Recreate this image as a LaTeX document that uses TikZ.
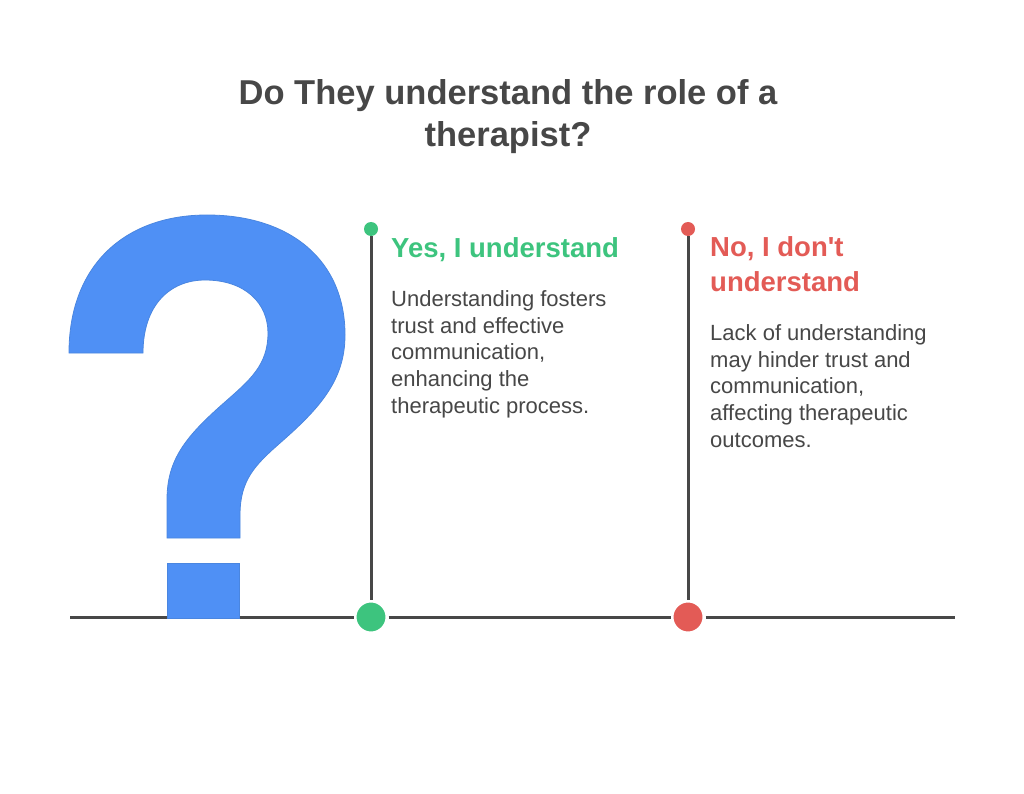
\documentclass[tikz,border=0pt]{standalone}
\usepackage{fontspec}
\setmainfont{Liberation Sans}
\definecolor{qblue}{HTML}{4F90F5}
\definecolor{qblueline}{HTML}{4A86E0}
\definecolor{yesgreen}{HTML}{3DC47E}
\definecolor{nored}{HTML}{E35B56}
\definecolor{inkgray}{HTML}{474747}
\tikzset{
  rail/.style={line width=3pt, color=inkgray},
  bigdot/.style={circle, draw=white, line width=3pt, minimum size=32pt, inner sep=0pt},
  topdot/.style={circle, minimum size=14pt, inner sep=0pt},
  headtext/.style={anchor=base west, inner sep=0pt, font=\fontsize{27.5}{34.5}\selectfont\bfseries, align=left},
  bodytext/.style={anchor=base west, inner sep=0pt, font=\fontsize{22}{26.6}\selectfont, color=inkgray, align=left},
}

\begin{document}
\begin{tikzpicture}[x=1pt, y=-1pt]
		%%%%% START %%%%%
		\useasboundingbox[fill=white] (0, 0) rectangle (1024, 794);
		
		% anchors are on the baseline of the last line
		\node[font=\fontsize{34.5}{42}\selectfont\bfseries, color=inkgray, align=center, anchor=base] (title) at (508, 147) {Do They understand the role of a\\therapist?};
		
		% question mark
		\draw[fill=qblue, draw=qblueline, line width=0.8pt] (69, 353) -- (143, 353)
			.. controls (143, 305) and (170, 280) .. (205, 280)
			.. controls (245, 280) and (268, 303) .. (268, 333)
			.. controls (268, 365) and (250, 380) .. (225, 402)
			.. controls (185, 437) and (167, 460) .. (167, 500)
			-- (167, 538) -- (240, 538) -- (240, 515)
			.. controls (240, 480) and (255, 465) .. (280, 443)
			.. controls (320, 408) and (345, 380) .. (345, 335)
			.. controls (345, 260) and (290, 215) .. (207, 215)
			.. controls (125, 215) and (69, 265) .. (69, 353) -- cycle;
		
		\coordinate (railL) at (70, 617);
		\coordinate (railR) at (955, 617);
		
		\node[bigdot, fill=yesgreen] (yesdot) at (371, 617) {};
		\node[bigdot, fill=nored] (nodot) at (688, 617) {};
		\node[topdot, fill=yesgreen] (yestop) at (371, 229) {};
		\node[topdot, fill=nored] (notop) at (688, 229) {};
		
		\draw[rail] (railL) -- (yesdot) -- (nodot) -- (railR);
		\draw[rail] (yestop) -- (yesdot);
		\draw[rail] (notop) -- (nodot);
		
		\draw[fill=qblue, draw=qblueline, line width=0.8pt] (167, 563) rectangle (239, 618.5);
		
		% yes branch
		\node[headtext, color=yesgreen] (yeshead) at (391, 257) {Yes, I understand};
		\node[bodytext] (yesbody) at (391, 413) {Understanding fosters\\trust and effective\\communication,\\enhancing the\\therapeutic process.};
		
		% no branch
		\node[headtext, color=nored] (nohead) at (710, 291) {No, I don\textquotesingle t\\understand};
		\node[bodytext] (nobody) at (710, 447) {Lack of understanding\\may hinder trust and\\communication,\\affecting therapeutic\\outcomes.};
		
		%%%%% END %%%%%
	\end{tikzpicture}
\end{document}
